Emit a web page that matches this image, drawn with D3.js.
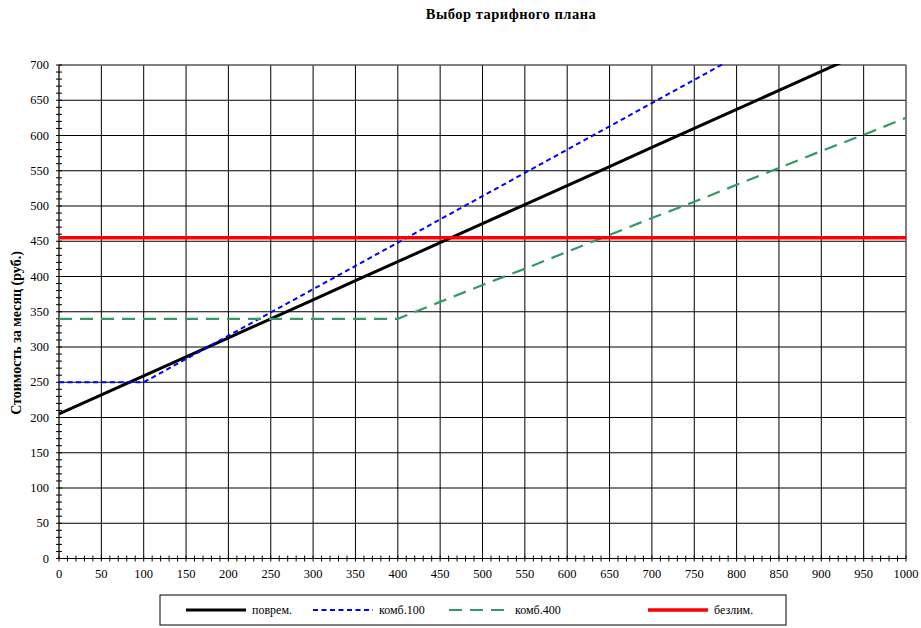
<!DOCTYPE html>
<html><head><meta charset="utf-8">
<script src="https://cdn.jsdelivr.net/npm/d3@7"></script>
<style>body{margin:0;background:#fff}svg{display:block}
svg text{font-family:"Liberation Serif","Times New Roman",serif;}</style>
</head><body>
<script>
const xValues = [0,50,100,150,200,250,300,350,400,450,500,550,600,650,700,750,800,850,900,950,1000];
const povrem  = [205,232,259,286,313,340,367,394,421,448,475,502,529,556,583,610,637,664,691,718,745];
const komb100 = [250,250,250,283,316,349,382,415,448,481,514,547,580,613,646,679,712,745,778,811,844];
const komb400 = [340,340,340,340,340,340,340,340,340,364,388,411,435,459,483,506,530,554,578,601,625];
const bezlim  = [455,455,455,455,455,455,455,455,455,455,455,455,455,455,455,455,455,455,455,455,455];
const seriesNames = ["поврем.","комб.100","комб.400","безлим."];
const xTicks = d3.range(0,1001,50);
const yTicks = d3.range(0,701,50);
const titleText = "Выбор тарифного плана";
const yLabel = "Стоимость за месяц (руб.)";

const W=921,H=628;
const svg=d3.select("body").append("svg").attr("width",W).attr("height",H);
const L=59,R=906,T=65,B=558.5;
const x=d3.scaleLinear().domain([0,1000]).range([L,R]);
const y=d3.scaleLinear().domain([0,700]).range([B,T]);

svg.append("text").attr("x",511).attr("y",19).attr("text-anchor","middle")
  .attr("font-weight","bold").attr("font-size",14.5).attr("letter-spacing",0.5).text(titleText);

// grid
const g=svg.append("g");
g.selectAll(".vg").data(xTicks.slice(1)).join("line")
  .attr("x1",d=>x(d)).attr("x2",d=>x(d)).attr("y1",T).attr("y2",B)
  .attr("stroke","#000").attr("stroke-width",1);
g.selectAll(".hg").data(yTicks.slice(1)).join("line")
  .attr("y1",d=>y(d)).attr("y2",d=>y(d)).attr("x1",L).attr("x2",R)
  .attr("stroke","#000").attr("stroke-width",1);
svg.append("rect").attr("x",L).attr("y",T).attr("width",R-L).attr("height",B-T)
  .attr("fill","none").attr("stroke","#808080").attr("stroke-width",1);

// axes
const xAxis=svg.append("g").attr("transform",`translate(0,${B})`);
xAxis.append("line").attr("x1",L).attr("x2",R).attr("stroke","#000");
xAxis.selectAll(".mt").data(d3.range(0,1001,10)).join("line")
  .attr("x1",d=>x(d)).attr("x2",d=>x(d)).attr("y1",-3).attr("y2",3).attr("stroke","#000");
xAxis.selectAll("text").data(xTicks).join("text")
  .attr("x",d=>x(d)).attr("y",19).attr("text-anchor","middle")
  .attr("font-size",12.5).text(d=>d);

const yAxis=svg.append("g");
yAxis.append("line").attr("x1",L).attr("x2",L).attr("y1",T).attr("y2",B).attr("stroke","#000");
yAxis.selectAll(".mt").data(d3.range(0,701,10)).join("line")
  .attr("y1",d=>y(d)).attr("y2",d=>y(d)).attr("x1",L-3).attr("x2",L+3).attr("stroke","#000");
yAxis.selectAll("text").data(yTicks).join("text")
  .attr("x",L-10).attr("y",d=>y(d)+4).attr("text-anchor","end")
  .attr("font-size",12.5).text(d=>d);

svg.append("text").attr("transform",`translate(21,333) rotate(-90)`)
  .attr("text-anchor","middle").attr("font-weight","bold")
  .attr("font-size",14).text(yLabel);

// series
svg.append("clipPath").attr("id","clip").append("rect")
  .attr("x",L).attr("y",T-1).attr("width",R-L).attr("height",B-T+2);
const styles=[
  {vals:povrem,color:"#000",w:3,dash:null},
  {vals:komb100,color:"#0000ff",w:2,dash:"5,3.5"},
  {vals:komb400,color:"#339966",w:2.2,dash:"13,8"},
  {vals:bezlim,color:"#ff0000",w:3.5,dash:null}
];
const line=d3.line().x((d,i)=>x(xValues[i])).y(d=>y(d));
const sg=svg.append("g").attr("clip-path","url(#clip)");
styles.forEach(s=>{
  sg.append("path").datum(s.vals).attr("d",line).attr("fill","none")
    .attr("stroke",s.color).attr("stroke-width",s.w)
    .attr("stroke-dasharray",s.dash);
});

// legend
const lg=svg.append("g");
lg.append("rect").attr("x",160).attr("y",595).attr("width",626).attr("height",30)
  .attr("fill","#fff").attr("stroke","#000").attr("stroke-width",1);
const legendX=[186,313,449,648];
styles.forEach((s,i)=>{
  lg.append("line").attr("x1",legendX[i]).attr("x2",legendX[i]+60).attr("y1",610).attr("y2",610)
    .attr("stroke",s.color).attr("stroke-width",s.w).attr("stroke-dasharray",s.dash);
  lg.append("text").attr("x",legendX[i]+66).attr("y",614)
    .attr("font-size",12).text(seriesNames[i]);
});
</script>
</body></html>
